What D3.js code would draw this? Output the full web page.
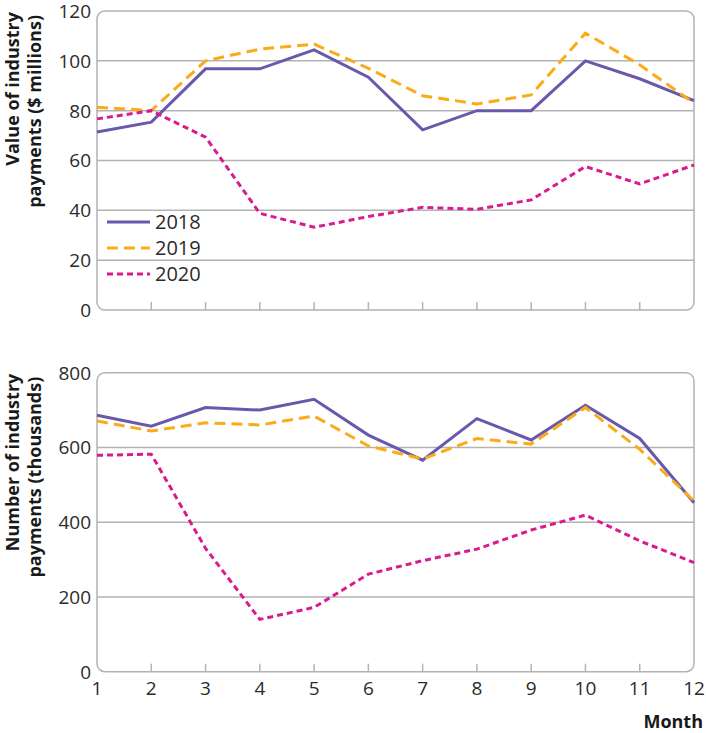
<!DOCTYPE html>
<html>
<head>
<meta charset="utf-8">
<script src="https://cdn.jsdelivr.net/npm/d3@7"></script>
<style>
  body { margin: 0; background: #fff; }
  svg { display: block; }
  text { font-family: "Open Sans", "Noto Sans", sans-serif; }
</style>
</head>
<body>
<svg id="chart" width="706" height="733"></svg>
<script>
const months = [1,2,3,4,5,6,7,8,9,10,11,12];
const seriesNames = ["2018","2019","2020"];
const value2018 = [71.4, 75.4, 96.8, 96.8, 104.4, 93.4, 72.3, 80, 80, 100, 92.8, 84];
const value2019 = [81.4, 80, 100, 104.7, 106.7, 97, 86, 82.7, 86.3, 111.1, 98.4, 83];
const value2020 = [76.7, 80, 69.4, 38.8, 33.2, 37.5, 41.2, 40.4, 44.2, 57.6, 50.6, 58.2];
const count2018 = [686, 657, 707, 700, 729, 633, 566, 677, 620, 713, 624, 452];
const count2019 = [671, 644, 666, 660, 684, 604, 569, 624, 609, 707, 595, 457];
const count2020 = [579, 582, 330, 140, 172, 261, 297, 328, 379, 419, 350, 292];
const valueTicks = [0, 20, 40, 60, 80, 100, 120];
const countTicks = [0, 200, 400, 600, 800];

const colors = {"2018": "#6a58ab", "2019": "#fbab18", "2020": "#da1b8e"};
const dashes = {"2018": null, "2019": "11,6", "2020": "6,4"};

const svg = d3.select("#chart");
const left = 97, right = 694;
const x = d3.scaleLinear().domain([1, 12]).range([left, right]);

function panel(top, bottom, ymax, ticks, data, titleLines, showXLabels, showLegend) {
  const y = d3.scaleLinear().domain([0, ymax]).range([bottom, top]);
  const g = svg.append("g");
  g.selectAll("line.grid").data(ticks.filter(t => t > 0 && t < ymax)).join("line")
    .attr("x1", left).attr("x2", right)
    .attr("y1", d => y(d)).attr("y2", d => y(d))
    .attr("stroke", "#b3b3b3").attr("stroke-width", 1.5);
  g.append("rect").attr("x", left).attr("y", y(ymax)).attr("width", right - left)
    .attr("height", bottom - y(ymax)).attr("rx", 8).attr("ry", 8)
    .attr("fill", "none").attr("stroke", "#b3b3b3").attr("stroke-width", 1.5);
  g.selectAll("line.tick").data(months.slice(1, 11)).join("line")
    .attr("x1", d => x(d)).attr("x2", d => x(d))
    .attr("y1", bottom).attr("y2", bottom - 8)
    .attr("stroke", "#b3b3b3").attr("stroke-width", 1.5);
  g.selectAll("text.ytick").data(ticks).join("text")
    .attr("x", left - 6).attr("y", d => y(d)).attr("dy", "0.36em")
    .attr("text-anchor", "end").attr("font-size", 19).attr("fill", "#2b2b2b")
    .text(d => d);
  // y title: two lines, anchored at the top
  const t = g.append("text").attr("transform", `translate(0,${top + 1}) rotate(-90)`)
    .attr("text-anchor", "end").attr("font-size", 18).attr("font-weight", "bold").attr("fill", "#1a1a1a");
  t.append("tspan").attr("x", 0).attr("y", 19).text(titleLines[0]);
  t.append("tspan").attr("x", -3).attr("y", 41).text(titleLines[1]);
  const line = d3.line().x((d, i) => x(months[i])).y(d => y(d));
  seriesNames.forEach((s, k) => {
    g.append("path").datum(data[k]).attr("d", line)
      .attr("fill", "none").attr("stroke", colors[s]).attr("stroke-width", 3)
      .attr("stroke-dasharray", dashes[s]).attr("stroke-linejoin", "miter");
  });
  if (showXLabels) {
    g.selectAll("text.xtick").data(months).join("text")
      .attr("x", d => x(d)).attr("y", bottom + 16).attr("dy", "0.36em")
      .attr("text-anchor", "middle").attr("font-size", 19).attr("fill", "#2b2b2b")
      .text(d => d);
    g.append("text").attr("x", 703).attr("y", 728).attr("text-anchor", "end")
      .attr("font-size", 18).attr("font-weight", "bold").attr("fill", "#1a1a1a").text("Month");
  }
  if (showLegend) {
    seriesNames.forEach((s, k) => {
      const ly = 222 + k * 26;
      g.append("line").attr("x1", 107).attr("x2", 150).attr("y1", ly).attr("y2", ly)
        .attr("stroke", colors[s]).attr("stroke-width", 3).attr("stroke-dasharray", dashes[s]);
      g.append("text").attr("x", 155).attr("y", ly).attr("dy", "0.36em")
        .attr("font-size", 20).attr("fill", "#2b2b2b").text(s);
    });
  }
}

panel(11, 310, 120, valueTicks, [value2018, value2019, value2020],
  ["Value of industry", "payments ($ millions)"], false, true);
panel(372.7, 671.7, 800, countTicks, [count2018, count2019, count2020],
  ["Number of industry", "payments (thousands)"], true, false);
</script>
</body>
</html>
